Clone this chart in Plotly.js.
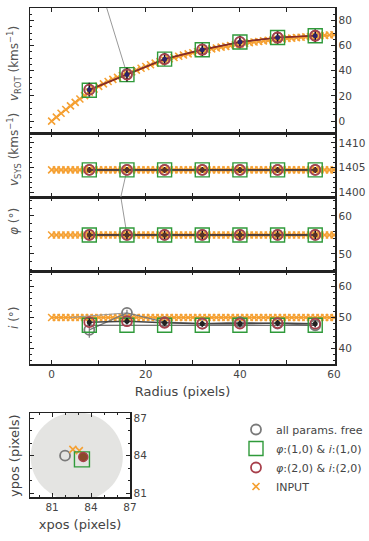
<!DOCTYPE html>
<html><head><meta charset="utf-8">
<script src="https://cdn.plot.ly/plotly-3.0.1.min.js"></script>
<style>html,body{margin:0;padding:0;background:#fff}#chart{width:369px;height:541px}</style>
</head><body><div id="chart"></div><script>
// ---- INPUT model (orange x) ----
const radiusIn = [0,1,2,3,4,5,6,7,8,9,10,11,12,13,14,15,16,17,18,19,20,21,22,23,24,25,26,27,28,29,30,31,32,33,34,35,36,37,38,39,40,41,42,43,44,45,46,47,48,49,50,51,52,53,54,55,56,57,58,59,60];
const vrotIn = [0,3.1,6.2,9.2,12.1,14.9,17.6,20.3,23.0,25.4,27.6,29.6,31.5,33.2,34.8,36.2,37.5,39.1,40.6,42.0,43.4,44.8,46.1,47.3,48.5,49.6,50.6,51.6,52.6,53.5,54.4,55.2,56.0,56.8,57.5,58.2,58.9,59.5,60.1,60.7,61.3,61.9,62.4,62.9,63.3,63.8,64.2,64.6,65.0,65.4,65.7,66.0,66.4,66.7,67.0,67.3,67.6,67.9,68.2,68.5,68.7];
const vsysIn = [1404.5,1404.5,1404.5,1404.5,1404.5,1404.5,1404.5,1404.5,1404.5,1404.5,1404.5,1404.5,1404.5,1404.5,1404.5,1404.5,1404.5,1404.5,1404.5,1404.5,1404.5,1404.5,1404.5,1404.5,1404.5,1404.5,1404.5,1404.5,1404.5,1404.5,1404.5,1404.5,1404.5,1404.5,1404.5,1404.5,1404.5,1404.5,1404.5,1404.5,1404.5,1404.5,1404.5,1404.5,1404.5,1404.5,1404.5,1404.5,1404.5,1404.5,1404.5,1404.5,1404.5,1404.5,1404.5,1404.5,1404.5,1404.5,1404.5,1404.5,1404.5];
const phiIn = [55,55,55,55,55,55,55,55,55,55,55,55,55,55,55,55,55,55,55,55,55,55,55,55,55,55,55,55,55,55,55,55,55,55,55,55,55,55,55,55,55,55,55,55,55,55,55,55,55,55,55,55,55,55,55,55,55,55,55,55,55];
const incIn = [50,50,50,50,50,50,50,50,50,50,50,50,50,50,50,50,50,50,50,50,50,50,50,50,50,50,50,50,50,50,50,50,50,50,50,50,50,50,50,50,50,50,50,50,50,50,50,50,50,50,50,50,50,50,50,50,50,50,50,50,50];

// ---- fitted rings ----
const radii = [8,16,24,32,40,48,56];
// all params free (grey circles)
const vrotFree = [25.0,37.5,49.5,57.0,63.0,66.5,68.0];
const vsysFree = [1404.5,1404.5,1404.5,1404.5,1404.5,1404.5,1404.5];
const phiFree  = [55.0,55.0,55.0,55.0,55.0,55.0,55.0];
const incFree  = [46.0,51.5,48.5,48.0,48.5,48.0,47.5];
const incErrFree = [2.5,1.0,0.8,0.8,0.8,0.8,0.8];
// grey segment running off-scale toward the inner fit
const jumpRadius = [4,16];
const vrotJump = [184,37.5];
const vsysJump = [1354,1404.5];
const phiJump  = [147,55];
const incJump  = [50,51.5];
// phi:(1,0) & i:(1,0)  (green squares)
const vrotSq = [24.5,37.0,49.3,56.8,62.9,66.5,67.9];
const vsysSq = [1404.5,1404.5,1404.5,1404.5,1404.5,1404.5,1404.5];
const phiSq  = [55.0,55.0,55.0,55.0,55.0,55.0,55.0];
const incSq  = [47.5,47.5,47.5,47.5,47.5,47.5,47.5];
// phi:(2,0) & i:(2,0)  (red circles)
const vrotCi = [25.0,37.0,49.3,56.8,62.9,66.5,67.9];
const vsysCi = [1404.5,1404.5,1404.5,1404.5,1404.5,1404.5,1404.5];
const phiCi  = [55.0,55.0,55.0,55.0,55.0,55.0,55.0];
const incCi  = [48.5,48.8,48.3,48.0,48.0,48.2,48.0];
const vrotErr = [5.5,5.5,5.0,5.0,5.0,5.0,5.0];
const vsysErr = [0.6,0.6,0.6,0.6,0.6,0.6,0.6];
const phiErr  = [1.2,1.2,1.2,1.2,1.2,1.2,1.2];
const incErr  = [1.2,1.0,1.0,1.0,1.0,1.0,1.0];

// ---- centre position panel ----
const xposFree = [82.0], yposFree = [84.0];
const xposIn = [82.6,83.1], yposIn = [84.5,84.4];
const xposSq = [83.3], yposSq = [83.7];
const xposCi = [83.4], yposCi = [83.9];
const xposErr = [0.3], yposErr = [0.3];
const diskCenter = [82.9,83.9], diskRadius = [3.55];

const ORANGE = '#f5a032', GREEN = '#2f9a3a', RED = '#a8404c', GREY = '#7a7a7a';
const FONT = 'DejaVu Sans';

const panels = [
  {xa:'x4', ya:'y4', inp:vrotIn, fr:vrotFree, sq:vrotSq, ci:vrotCi, err:vrotErr, jump:vrotJump, line:'#8a2b22', dot:'#2c2468', legend:true},
  {xa:'x3', ya:'y3', inp:vsysIn, fr:vsysFree, sq:vsysSq, ci:vsysCi, err:vsysErr, jump:vsysJump, line:'#4a3a3a', dot:'#5a3326'},
  {xa:'x2', ya:'y2', inp:phiIn, fr:phiFree, sq:phiSq, ci:phiCi, err:phiErr, jump:phiJump, line:'#4a3a3a', dot:'#5a3326'},
  {xa:'x', ya:'y', inp:incIn, fr:incFree, sq:incSq, ci:incCi, err:incErr, jump:incJump, line:'#444', dot:'#222', frErr:incErrFree}
];

const traces = [];
panels.forEach(p => {
  const lg = !!p.legend;
  // lines
  traces.push({x:radiusIn, y:p.inp, xaxis:p.xa, yaxis:p.ya, type:'scatter', mode:'lines',
    showlegend:false, hoverinfo:'skip', line:{color:ORANGE, width:1.5}});
  traces.push({x:radiusIn, y:p.inp, xaxis:p.xa, yaxis:p.ya, type:'scatter', mode:'markers',
    name:'INPUT', legendrank:4, showlegend:lg,
    marker:{symbol:'x-thin', size:7, line:{color:ORANGE, width:1.6}, color:ORANGE}});
  traces.push({x:jumpRadius, y:p.jump, xaxis:p.xa, yaxis:p.ya, type:'scatter', mode:'lines',
    showlegend:false, hoverinfo:'skip', line:{color:'#999', width:1}});
  traces.push({x:radii, y:p.fr, xaxis:p.xa, yaxis:p.ya, type:'scatter', mode:'lines',
    showlegend:false, hoverinfo:'skip', line:{color:GREY, width:1.2}});
  traces.push({x:radii, y:p.sq, xaxis:p.xa, yaxis:p.ya, type:'scatter', mode:'lines',
    showlegend:false, hoverinfo:'skip', line:{color:p.line, width:1.2}});
  traces.push({x:radii, y:p.ci, xaxis:p.xa, yaxis:p.ya, type:'scatter', mode:'lines',
    showlegend:false, hoverinfo:'skip', line:{color:p.line, width:1.5}});
  // markers
  traces.push({x:radii, y:p.fr, xaxis:p.xa, yaxis:p.ya, type:'scatter', mode:'markers',
    name:'all params. free', legendrank:1, showlegend:lg,
    error_y: p.frErr ? {type:'data', array:p.frErr, color:GREY, thickness:1.2, width:0} : undefined,
    marker:{symbol:'circle-open', size:10, color:GREY, line:{color:GREY, width:1.8}}});
  traces.push({x:radii, y:p.sq, xaxis:p.xa, yaxis:p.ya, type:'scatter', mode:'markers',
    name:'<i>φ</i>:(1,0) &amp; <i>i</i>:(1,0)', legendrank:2, showlegend:lg,
    marker:{symbol:'square-open', size:14, color:GREEN, line:{color:GREEN, width:1.4}}});
  traces.push({x:radii, y:p.ci, xaxis:p.xa, yaxis:p.ya, type:'scatter', mode:'markers',
    name:'<i>φ</i>:(2,0) &amp; <i>i</i>:(2,0)', legendrank:3, showlegend:lg,
    error_y:{type:'data', array:p.err, color:'#111', thickness:1.6, width:0},
    marker:{symbol:'circle-open', size:10, color:RED, line:{color:RED, width:1.8}}});
  traces.push({x:radii, y:p.ci, xaxis:p.xa, yaxis:p.ya, type:'scatter', mode:'markers',
    showlegend:false, hoverinfo:'skip', marker:{symbol:'circle', size:5, color:p.dot}});
});

// centre panel
traces.push({x:xposFree, y:yposFree, xaxis:'x5', yaxis:'y5', type:'scatter', mode:'markers', showlegend:false,
  marker:{symbol:'circle-open', size:10, color:GREY, line:{color:GREY, width:1.8}}});
traces.push({x:xposIn, y:yposIn, xaxis:'x5', yaxis:'y5', type:'scatter', mode:'markers', showlegend:false,
  marker:{symbol:'x-thin', size:7, line:{color:ORANGE, width:1.6}, color:ORANGE}});
traces.push({x:xposSq, y:yposSq, xaxis:'x5', yaxis:'y5', type:'scatter', mode:'markers', showlegend:false,
  marker:{symbol:'square-open', size:15, color:GREEN, line:{color:GREEN, width:1.4}}});
traces.push({x:xposCi, y:yposCi, xaxis:'x5', yaxis:'y5', type:'scatter', mode:'markers', showlegend:false,
  error_x:{type:'data', array:xposErr, color:'#111', thickness:1.4, width:0},
  error_y:{type:'data', array:yposErr, color:'#111', thickness:1.4, width:0},
  marker:{symbol:'circle', size:9, color:'#8a4a2a', line:{color:RED, width:1.5}}});

const H = 541, W = 369;
const px = v => 1 - v / H;
const xL = 30 / W, xR = 335 / W;

const baseAx = {
  ticks:'inside', ticklen:4, tickwidth:1, tickcolor:'#222',
  showline:true, linecolor:'#222', linewidth:1.5, mirror:'allticks',
  showgrid:false, zeroline:false,
  tickfont:{family:FONT, size:10.5, color:'#444'}
};
const xMain = (anchor, labels) => Object.assign({}, baseAx, {
  domain:[xL, xR], anchor, range:[-4.6, 60.2], tick0:0, dtick:20,
  showticklabels:labels,
  minor:{dtick:10, ticks:'inside', ticklen:4, tickcolor:'#222'}
});
const yMain = (anchor, dom, range, tick0, dtick, mdt) => Object.assign({}, baseAx, {
  domain:dom, anchor, range, tick0, dtick, side:'right',
  minor:{dtick:mdt, ticks:'inside', ticklen:2, tickcolor:'#222'}
});
const ytitle = (text, yc, size) => ({text, xref:'paper', yref:'paper', x:14/W, y:px(yc),
  xanchor:'center', yanchor:'middle', textangle:-90, showarrow:false,
  font:{family:FONT, size:size, color:'#555'}});

const layout = {
  width:W, height:H, margin:{l:0, r:0, t:0, b:0},
  paper_bgcolor:'#fff', plot_bgcolor:'#fff',
  font:{family:FONT, color:'#444'},
  xaxis: Object.assign(xMain('y', true), {title:{text:'Radius (pixels)', font:{family:FONT, size:13, color:'#444'}, standoff:8}}),
  yaxis: yMain('x', [px(364), px(271)], [35, 65], 0, 10, 2),
  xaxis2: Object.assign(xMain('y2', false), {matches:'x'}),
  yaxis2: yMain('x2', [px(271), px(197)], [45.5, 65], 0, 10, 2),
  xaxis3: Object.assign(xMain('y3', false), {matches:'x'}),
  yaxis3: yMain('x3', [px(197), px(133)], [1399, 1412], 1400, 5, 1),
  xaxis4: Object.assign(xMain('y4', false), {matches:'x'}),
  yaxis4: yMain('x4', [px(133), px(8)], [-9.5, 90], 0, 20, 5),
  xaxis5: Object.assign({}, baseAx, {domain:[30/W, 130/W], anchor:'y5', range:[79.3, 87], tickvals:[81,84,87],
    minor:{dtick:1, ticks:'inside', ticklen:2, tickcolor:'#222'},
    title:{text:'xpos (pixels)', font:{family:FONT, size:13, color:'#444'}, standoff:8}}),
  yaxis5: Object.assign({}, baseAx, {domain:[px(497), px(413)], anchor:'x5', range:[80.7, 87.4], tickvals:[81,84,87], side:'right',
    minor:{dtick:1, ticks:'inside', ticklen:2, tickcolor:'#222'}}),
  shapes:[{type:'circle', xref:'x5', yref:'y5', layer:'below',
    x0:diskCenter[0]-diskRadius[0], x1:diskCenter[0]+diskRadius[0],
    y0:diskCenter[1]-diskRadius[0], y1:diskCenter[1]+diskRadius[0],
    fillcolor:'#e4e4e2', line:{width:0}}],
  legend:{x:236/W, y:px(415), xanchor:'left', yanchor:'top', bgcolor:'rgba(0,0,0,0)',
    font:{family:FONT, size:11, color:'#444'}, itemwidth:30, traceorder:'normal'},
  annotations:[
    ytitle('<i>v</i><sub>ROT</sub> (kms<sup>−1</sup>)', 64, 12),
    ytitle('<i>v</i><sub>SYS</sub> (kms<sup>−1</sup>)', 150, 12),
    ytitle('<i>φ</i> (°)', 222, 12),
    ytitle('<i>i</i> (°)', 318, 12),
    Object.assign(ytitle('ypos (pixels)', 456, 13), {font:{family:FONT, size:13, color:'#444'}})
  ]
};

Plotly.newPlot('chart', traces, layout, {displayModeBar:false, staticPlot:true});
</script></body></html>
